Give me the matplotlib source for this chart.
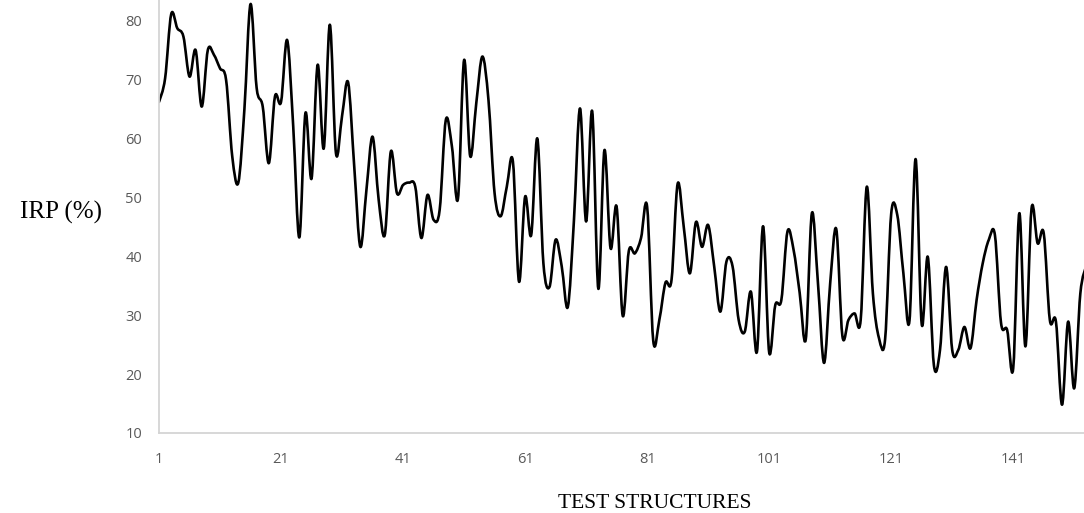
import matplotlib
matplotlib.use("Agg")
import matplotlib.pyplot as plt
from matplotlib.path import Path
from matplotlib.patches import PathPatch

# IRP values per test structure
structures = list(range(1, 154))
irp = [
    66.2, 70.2, 81.1, 78.7, 77.3, 70.5, 75.0, 65.4, 75.0, 74.2,
    71.9, 69.9, 57.0, 52.5, 65.0, 82.8, 68.6, 65.4, 55.8, 67.1,
    66.2, 76.7, 62.0, 43.2, 64.3, 53.2, 72.5, 58.3, 79.3, 57.5,
    63.8, 69.5, 55.2, 41.6, 51.3, 60.3, 49.6, 43.6, 57.8, 50.7,
    52.1, 52.5, 51.8, 43.1, 50.4, 46.2, 47.9, 63.1, 58.7, 49.8,
    73.3, 57.0, 66.0, 73.9, 66.5, 50.7, 46.8, 51.8, 56.1, 35.7,
    50.1, 43.6, 60.0, 38.8, 34.8, 42.8, 38.3, 31.4, 46.0, 65.1,
    45.9, 64.6, 34.5, 58.0, 41.4, 48.4, 29.9, 40.9, 40.5, 43.1,
    48.4, 25.7, 29.2, 35.5, 36.0, 52.3, 45.0, 37.1, 45.8, 41.6,
    45.3, 38.2, 30.6, 39.1, 38.3, 29.2, 27.2, 34.0, 23.8, 45.1,
    23.7, 31.7, 32.6, 44.2, 41.1, 33.8, 25.9, 47.3, 35.4, 21.9,
    35.4, 44.6, 26.5, 29.2, 30.3, 29.2, 51.8, 33.7, 26.1, 25.9,
    47.2, 47.0, 37.1, 29.1, 56.5, 28.5, 39.9, 21.5, 24.1, 38.2,
    24.1, 24.1, 28.0, 24.4, 32.6, 38.8, 42.8, 43.6, 28.7, 27.5,
    21.0, 47.3, 24.7, 48.1, 42.2, 43.9, 29.2, 28.9, 14.8, 28.9,
    17.6, 33.7, 38.5,
]
xticks = [1, 21, 41, 61, 81, 101, 121, 141]
yticks = [10, 20, 30, 40, 50, 60, 70, 80]


def smooth_path(xs, ys):
    # cubic bezier through every point, like a spreadsheet "smoothed line"
    n = len(xs)
    verts = [(xs[0], ys[0])]
    codes = [Path.MOVETO]
    for i in range(n - 1):
        i0 = max(i - 1, 0)
        i2 = min(i + 2, n - 1)
        c1 = (xs[i] + (xs[i + 1] - xs[i0]) / 6, ys[i] + (ys[i + 1] - ys[i0]) / 6)
        c2 = (xs[i + 1] - (xs[i2] - xs[i]) / 6, ys[i + 1] - (ys[i2] - ys[i]) / 6)
        verts += [c1, c2, (xs[i + 1], ys[i + 1])]
        codes += [Path.CURVE4] * 3
    return Path(verts, codes)


fig = plt.figure(figsize=(10.84, 5.13), dpi=100)
ax = fig.add_axes([159 / 1084, 1 - 433 / 513, 925 / 1084, 433 / 513])

patch = PathPatch(smooth_path(structures, irp), facecolor="none",
                  edgecolor="black", linewidth=1.9, capstyle="round",
                  joinstyle="round")
ax.add_patch(patch)

ax.set_xlim(1, 152.6)
ax.set_ylim(10, 83.5)
ax.set_xticks(xticks)
ax.set_yticks(yticks)
ax.tick_params(length=0, labelsize=10.5, labelcolor="#595959")
ax.tick_params(axis="x", pad=14)
ax.tick_params(axis="y", pad=12)
for lab in ax.get_xticklabels() + ax.get_yticklabels():
    lab.set_family("Open Sans")

for s in ["top", "right"]:
    ax.spines[s].set_visible(False)
for s in ["left", "bottom"]:
    ax.spines[s].set_color("#d4d4d4")
    ax.spines[s].set_linewidth(1.3)

fig.text(20 / 1084, 1 - 212 / 513, "IRP (%)", family="Liberation Serif",
         fontsize=18, ha="left", va="center")
fig.text(655 / 1084, 1 - 503 / 513, "TEST STRUCTURES", family="Liberation Serif",
         fontsize=15.5, ha="center", va="center")

fig.savefig("out.png", dpi=100)
